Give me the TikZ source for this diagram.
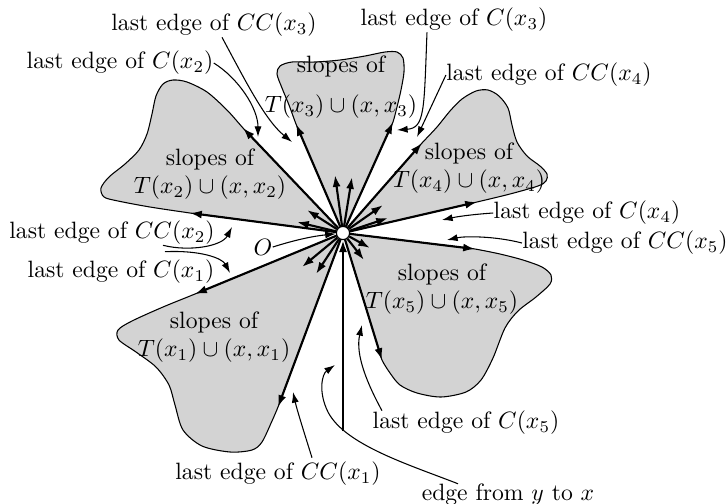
\documentclass[tikz,border=0pt]{standalone}
\usetikzlibrary{arrows.meta,calc}
\definecolor{blobgray}{RGB}{211,211,211}
\tikzset{
  edgearrow/.style={line width=0.9pt,-{Latex[length=5pt,width=3.4pt]}},
  blobshape/.style={fill=blobgray,draw=black,line width=0.45pt},
  pointer/.style={line width=0.45pt,-{Latex[length=4.5pt,width=3pt]}},
  lab/.style={inner sep=0pt},
  blobtext/.style={inner sep=0pt,align=center},
}
\begin{document}
\begin{tikzpicture}[x=0.423pt,y=-0.423pt]
\useasboundingbox (0,0) rectangle (727,503);
\coordinate (o) at (343,233);
% blobs
\filldraw[blobshape] (o) -- plot[smooth] coordinates {(253,138.5) (243,128) (227,110) (207,92) (187,82) (173,80) (163,84) (156,96) (152,114) (147,134) (139,150) (125,164) (109,177) (101,188) (104,197) (118,201) (150,207) (190,213) (205.3,215)} -- cycle;
\filldraw[blobshape] (o) -- plot[smooth] coordinates {(300.7,134.9) (296,124) (289,105) (282,88) (277,74) (280,66) (292,62) (315,62) (340,60) (365,56) (385,52) (397,52) (403,58) (404,72) (401,90) (397,107) (393,122) (388,133)} -- cycle;
\filldraw[blobshape] (o) -- plot[smooth] coordinates {(414.1,152) (422,143) (437,127) (450,111) (462,99) (476,91) (488,90) (499,96) (508,108) (512,125) (517,142) (527,156) (540,166) (547,174) (546,181) (538,186) (510,194) (477,202) (463.6,205.1)} -- cycle;
\filldraw[blobshape] (o) -- plot[smooth] coordinates {(461.8,247.4) (475,249) (500,254) (523,260) (542,267) (551,275) (550,284) (536,297) (518,311) (505,328) (493,358) (481,380) (466,392) (441,397) (417,393) (400,385) (390,373) (382,360) (378.1,347.3)} -- cycle;
\filldraw[blobshape] (o) -- plot[smooth] coordinates {(209.8,287.9) (195,294) (163,307) (132,321) (118,330) (119,340) (136,352) (156,367) (169,385) (175,405) (183,430) (202,446) (230,452) (252,450) (262,442) (272,421) (278,407) (284.5,389.6)} -- cycle;
% blob texts
\node[blobtext] (b2) at (210,174) {slopes of\\$T(x_2)\cup(x,x_2)$};
\node[blobtext] (b3) at (341,87) {slopes of\\[5pt]$T(x_3)\cup(x,x_3)$};
\node[blobtext] (b4) at (469,168) {slopes of\\$T(x_4)\cup(x,x_4)$};
\node[blobtext] (b5) at (442,289) {slopes of\\$T(x_5)\cup(x,x_5)$};
\node[blobtext] (b1) at (214,337) {slopes of\\$T(x_1)\cup(x,x_1)$};
% centre vertex
\node[circle,draw,fill=white,line width=0.5pt,inner sep=0pt,minimum size=5.6pt] (O) at (o) {};
% edge tips
\coordinate (t2u) at (243,128);
\coordinate (t2l) at (190,213);
\coordinate (t3l) at (296,124);
\coordinate (t3r) at (393,122);
\coordinate (t4u) at (422,143);
\coordinate (t4l) at (477,202);
\coordinate (t5u) at (475,249);
\coordinate (t5l) at (382,360);
\coordinate (t1u) at (195,294);
\coordinate (t1l) at (278,407);
\foreach \t in {t2u,t2l,t3l,t3r,t4u,t4l,t5u,t5l,t1u,t1l} \draw[edgearrow] (O) -- (\t);
% short arrows
\coordinate (s3a) at (335,175);
\coordinate (s3b) at (352,177);
\coordinate (s2a) at (307,210);
\coordinate (s2b) at (297,222);
\coordinate (s4a) at (383,205);
\coordinate (s4b) at (388,218);
\coordinate (s5a) at (370,248);
\coordinate (s5b) at (364,260);
\coordinate (s1a) at (302,267);
\coordinate (s1b) at (316,274);
\foreach \t in {s3a,s3b,s2a,s2b,s4a,s4b,s5a,s5b,s1a,s1b} \draw[edgearrow] (O) -- (\t);
% edge from y
\coordinate (yfoot) at (343,431);
\draw[edgearrow] (yfoot) -- (O);
% labels
\node[lab] (lcc3) at (214,25) {last edge of $CC(x_3)$};
\node[lab] (lc2) at (120,63) {last edge of $C(x_2)$};
\node[lab] (lc3) at (454,20) {last edge of $C(x_3)$};
\node[lab] (lcc4) at (549,75) {last edge of $CC(x_4)$};
\node[lab] (lc4) at (587,213) {last edge of $C(x_4)$};
\node[lab] (lcc5) at (625,243) {last edge of $CC(x_5)$};
\node[lab] (lcc2) at (112,233) {last edge of $CC(x_2)$};
\node[lab] (lc1) at (121,272) {last edge of $C(x_1)$};
\node[lab] (Olab) at (263,247) {$O$};
\node[lab] (lcc1) at (278,474) {last edge of $CC(x_1)$};
\node[lab] (lc5) at (466,423) {last edge of $C(x_5)$};
\node[lab] (ledge) at (508,495) {edge from $y$ to $x$};
% pointer ends
\coordinate (pcc3) at (292,142);
\coordinate (pc2) at (258,137);
\coordinate (pc3) at (397,130);
\coordinate (pcc4) at (417,137);
\coordinate (pc4) at (442,220);
\coordinate (pcc5) at (447,240);
\coordinate (pcc2) at (232,227);
\coordinate (pc1) at (230,273);
\coordinate (pcc1) at (293,392);
\coordinate (pc5) at (362,325);
\coordinate (pedge) at (335,365);
% pointers
\draw[pointer] ($(lcc3.south)+(8,0)$) .. controls (245,80) and (265,120) .. (pcc3);
\draw[pointer] (lc2.east) .. controls (238,78) and (258,108) .. (pc2);
\draw[pointer] ($(lc3.south)+(-27,0)$) .. controls (424,110) and (425,128) .. (pc3);
\draw[pointer] (lcc4.west) -- (pcc4);
\draw[pointer] (lc4.west) .. controls (478,214) and (460,216) .. (pc4);
\draw[pointer] (lcc5.west) .. controls (495,236) and (465,236) .. (pcc5);
\draw[pointer] ($(lcc2.south)+(51,0)$) .. controls (190,252) and (222,246) .. (pcc2);
\draw[pointer] ($(lc1.north)+(44,-8)$) .. controls (200,250) and (222,258) .. (pc1);
\draw[pointer] ($(lcc1.north)+(34,-4)$) .. controls (304,432) and (297,410) .. (pcc1);
\draw[pointer] ($(lc5.north)+(-84,0)$) .. controls (368,385) and (355,355) .. (pc5);
\draw[pointer] ($(ledge.north)+(-50,0)$) .. controls (410,465) and (345,445) .. (328,412) .. controls (318,392) and (322,374) .. (pedge);
\draw[pointer] (Olab.east) .. controls (298,239) and (315,236) .. (O);
\end{tikzpicture}
\end{document}
